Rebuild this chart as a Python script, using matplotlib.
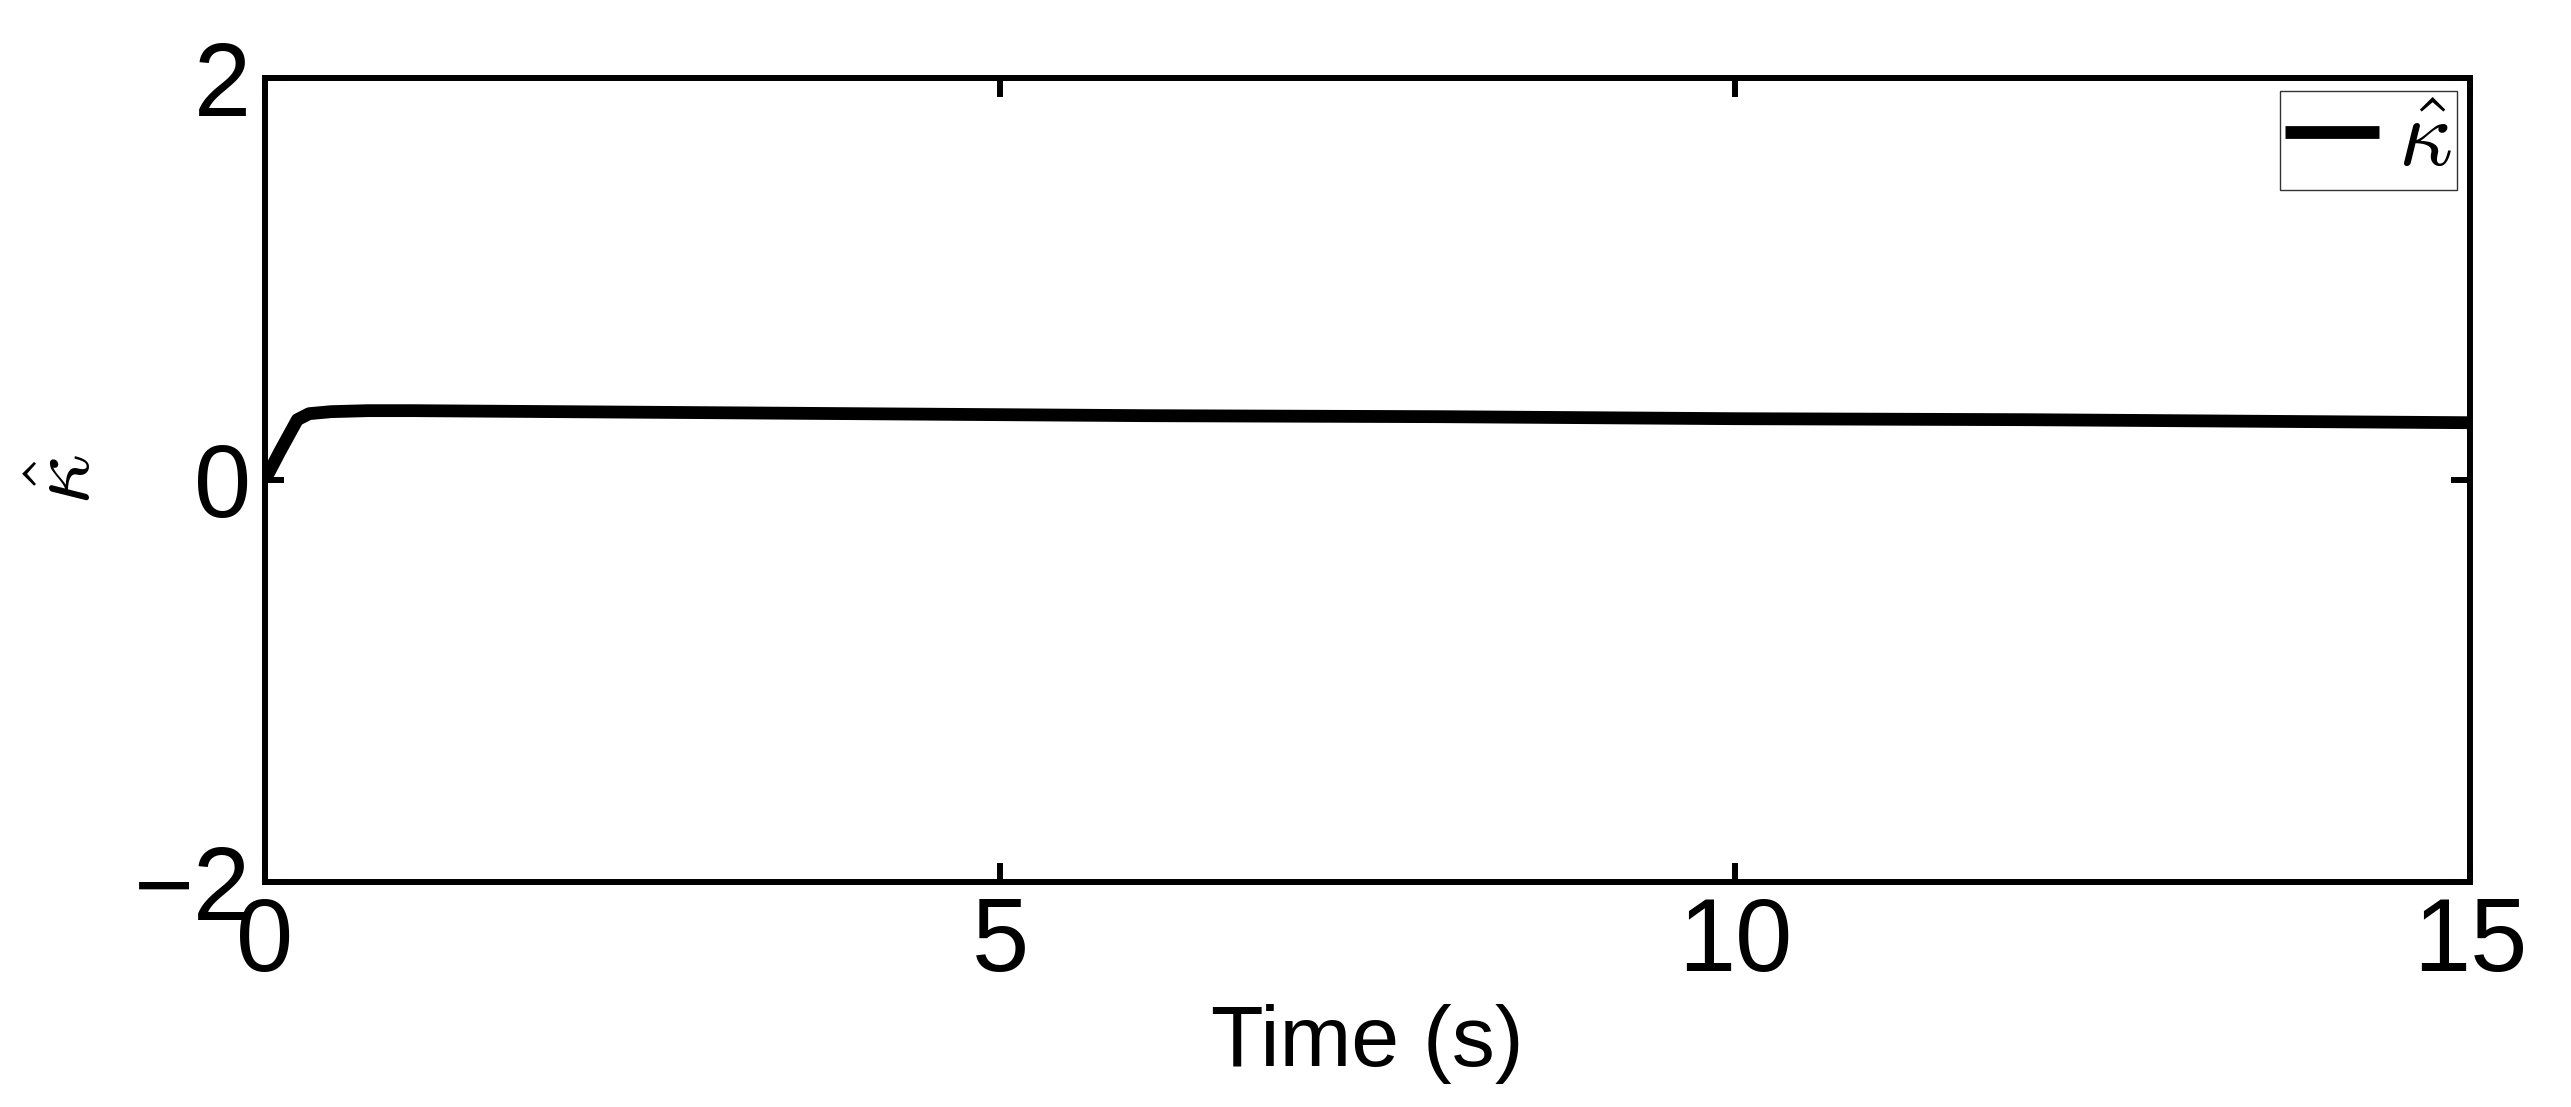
import matplotlib
matplotlib.use("Agg")
import matplotlib.pyplot as plt

plt.rcParams["font.family"] = ["Liberation Sans", "DejaVu Sans"]
plt.rcParams["mathtext.fontset"] = "cm"

# estimated kappa-hat estimate trace
time_s = [0.0, 0.1, 0.22, 0.3, 0.45, 0.7, 1.0, 2.0, 4.0, 6.0, 8.0, 10.0, 12.0, 14.0, 15.0]
kappa_hat = [0.0, 0.14, 0.30, 0.33, 0.34, 0.345, 0.345, 0.34, 0.33, 0.32, 0.315, 0.305, 0.3, 0.29, 0.285]

x_ticks = [0, 5, 10, 15]
y_ticks = [-2, 0, 2]

fig = plt.figure(figsize=(25.71, 11.07), dpi=100)
ax = fig.add_axes([265 / 2571, 1 - 882 / 1107, 2205 / 2571, 804 / 1107])

ax.plot(time_s, kappa_hat, color="black", lw=9.2, label=r"$\hat{\kappa}$",
        solid_capstyle="butt")

ax.set_xlim(0, 15)
ax.set_ylim(-2, 2)
ax.set_xticks(x_ticks)
ax.set_yticks(y_ticks)
ax.set_yticklabels(["\u22122", "0", "2"])
ax.tick_params(direction="in", length=14, width=4.3, labelsize=74,
               top=True, right=True, pad=10)
for s in ax.spines.values():
    s.set_linewidth(4.3)

ax.set_xlabel("Time (s)", fontsize=62, labelpad=8)
ax.set_ylabel(r"$\hat{\kappa}$", fontsize=64, labelpad=18)

leg = ax.legend(loc="upper right", fontsize=68, frameon=True, fancybox=False,
                handlelength=1.0, handletextpad=0.2, borderpad=0.05,
                borderaxespad=0.14)
leg.get_frame().set_edgecolor("black")
leg.get_frame().set_linewidth(1.0)

fig.savefig("out.png", dpi=100)
